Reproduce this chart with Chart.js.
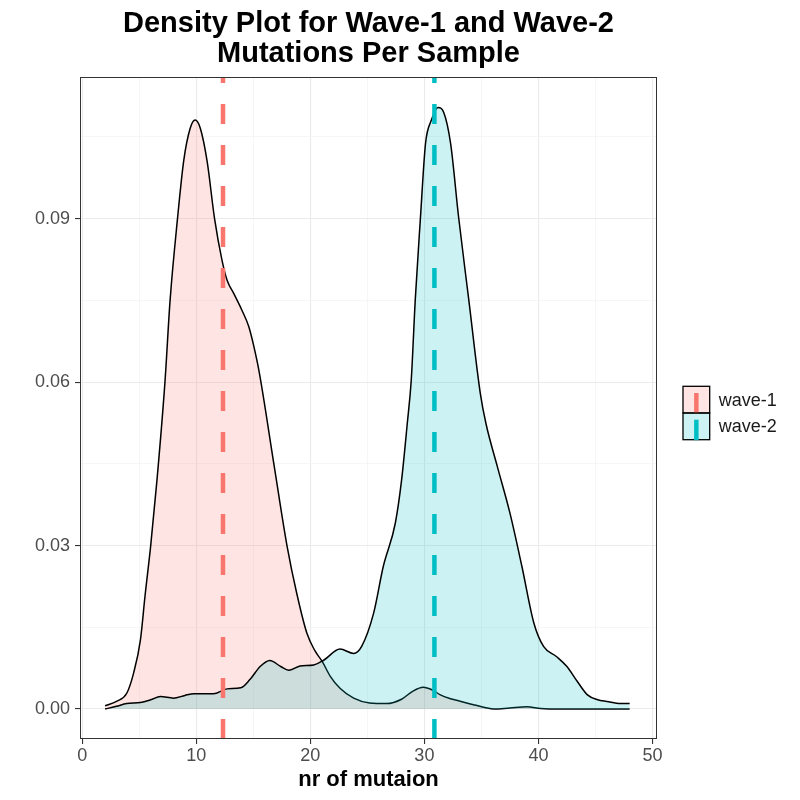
<!DOCTYPE html>
<html>
<head>
<meta charset="utf-8">
<script src="https://cdn.jsdelivr.net/npm/chart.js@4.4.1/dist/chart.umd.min.js"></script>
<style>
  html, body { margin: 0; padding: 0; background: #fff; }
  #wrap { width: 800px; height: 800px; }
</style>
</head>
<body>
<div id="wrap"><canvas id="densityChart" width="800" height="800"></canvas></div>
<script>
// density curves
const groups = ['wave-1', 'wave-2'];
const wave1X = [2, 3, 3.9, 4.5, 5.1, 5.5, 6, 6.55, 7.25, 7.7, 8.35, 8.9, 9.45, 9.9, 10.35, 10.95, 11.6, 12.25, 12.7, 13.3, 14, 14.6, 15.05, 15.5, 16.8, 17.95, 18.8, 19.7, 20.4, 21.05, 21.75, 22.6, 23.8, 25.2, 26.7, 28, 29, 29.9, 30.7, 31.4, 32.3, 33.2, 34.3, 35.3, 36.1, 37.5, 39, 40.2, 42, 45, 48];
const wave1Y = [0.0006, 0.0014, 0.0029, 0.0066, 0.0127, 0.0207, 0.030, 0.042, 0.060, 0.075, 0.090, 0.1007, 0.1065, 0.1081, 0.1066, 0.1005, 0.090, 0.0824, 0.0787, 0.0762, 0.0732, 0.0702, 0.0665, 0.0620, 0.0450, 0.0300, 0.0213, 0.0139, 0.0107, 0.0087, 0.0060, 0.0038, 0.0020, 0.0011, 0.0010, 0.0018, 0.0033, 0.0040, 0.0035, 0.0026, 0.0019, 0.0014, 0.0008, 0.0003, 0, 0.0002, 0.0004, 0.0001, 0, 0, 0];
const wave2X = [2, 3, 3.9, 5.1, 6, 6.85, 8, 9, 9.8, 11.5, 12.7, 13.9, 14.7, 15.6, 16.45, 17.4, 18.1, 19.1, 20.3, 21.2, 22.6, 23.8, 24.5, 25.55, 26.4, 27.45, 28, 28.5, 28.85, 29.2, 29.65, 30.1, 30.6, 31.2, 31.7, 32.3, 33, 33.9, 34.9, 35.4, 36.4, 37.5, 38.55, 39.6, 40.45, 41.6, 42.5, 43.4, 44.3, 45.2, 46, 47.2, 48];
const wave2Y = [0, 0.0005, 0.001, 0.0012, 0.0017, 0.0023, 0.002, 0.0025, 0.0028, 0.0028, 0.0037, 0.0039, 0.0054, 0.0078, 0.0089, 0.0078, 0.0071, 0.0079, 0.0081, 0.009, 0.011, 0.0102, 0.0115, 0.0176, 0.0262, 0.0341, 0.042, 0.0524, 0.0604, 0.0751, 0.090, 0.1038, 0.108, 0.1104, 0.1095, 0.1038, 0.0903, 0.075, 0.058, 0.0524, 0.0445, 0.036, 0.0262, 0.0158, 0.0115, 0.0096, 0.0078, 0.0051, 0.0026, 0.0017, 0.0014, 0.0010, 0.0010];
const means = [12.34, 30.88];

const xMajor = [0, 10, 20, 30, 40, 50];
const xMinor = [5, 15, 25, 35, 45];
const yMajor = [0, 0.03, 0.06, 0.09];
const yMinor = [0.015, 0.045, 0.075, 0.105];
const xRange = [-0.2, 50.4];
const yRange = [-0.0055, 0.116];

const fills = ['rgba(248,118,109,0.2)', 'rgba(0,191,196,0.2)'];
const lineColors = ['#F8766D', '#00BFC4'];
const FONT = "'Liberation Sans', Arial, sans-serif";

const toPoints = (xs, ys) => xs.map((x, i) => ({ x, y: ys[i] }));

const densitySet = (i, xs, ys) => ({
  label: groups[i],
  data: toPoints(xs, ys),
  borderColor: '#000',
  borderWidth: 1.5,
  backgroundColor: fills[i],
  fill: 'origin',
  pointRadius: 0,
  cubicInterpolationMode: 'monotone',
  order: 2 - i
});

const meanSet = i => ({
  label: groups[i] + ' mean',
  data: [{ x: means[i], y: yRange[0] }, { x: means[i], y: yRange[1] }],
  borderColor: lineColors[i],
  borderWidth: 4.5,
  borderDash: [20, 21],
  borderCapStyle: 'butt',
  pointRadius: 0,
  fill: false,
  order: 0
});

const gridStyle = major => ({
  color: c => major.includes(c.tick.value) ? '#EBEBEB' : '#F4F4F4',
  lineWidth: c => major.includes(c.tick.value) ? 1.1 : 0.8,
  tickColor: c => major.includes(c.tick.value) ? '#333333' : 'rgba(0,0,0,0)',
  tickLength: 5,
  drawTicks: true
});

const panelBorder = {
  id: 'panelBorder',
  afterDraw(chart) {
    const { ctx, chartArea: a } = chart;
    ctx.save();
    ctx.strokeStyle = '#333333';
    ctx.lineWidth = 1;
    ctx.strokeRect(a.left + 0.5, a.top + 0.5, a.right - a.left - 1, a.bottom - a.top - 1);
    ctx.restore();
  }
};

const keyLegend = {
  id: 'keyLegend',
  afterDraw(chart) {
    const { ctx, chartArea: a } = chart;
    const size = 26.7;
    const x = a.right + 26;
    const top = (a.top + a.bottom) / 2 + 5 - size;
    ctx.save();
    groups.forEach((g, i) => {
      const y = top + i * size;
      ctx.fillStyle = fills[i];
      ctx.fillRect(x, y, size, size);
      ctx.strokeStyle = '#000';
      ctx.lineWidth = 1.3;
      ctx.strokeRect(x, y, size, size);
      ctx.strokeStyle = lineColors[i];
      ctx.lineWidth = 4.5;
      ctx.beginPath();
      ctx.moveTo(x + size / 2, y + size + 0.5);
      ctx.lineTo(x + size / 2, y + size - 20);
      ctx.stroke();
      ctx.fillStyle = '#1A1A1A';
      ctx.font = `18px ${FONT}`;
      ctx.textBaseline = 'middle';
      ctx.fillText(g, x + size + 9, y + size / 2 + 1);
    });
    ctx.restore();
  }
};

new Chart(document.getElementById('densityChart'), {
  type: 'line',
  data: {
    datasets: [
      meanSet(0), meanSet(1),
      densitySet(0, wave1X, wave1Y),
      densitySet(1, wave2X, wave2Y)
    ]
  },
  options: {
    responsive: false,
    animation: false,
    layout: { padding: { right: 143, left: 0, top: 0, bottom: 0 } },
    plugins: {
      legend: { display: false },
      tooltip: { enabled: false },
      title: {
        display: true,
        fullSize: false,
        text: ['Density Plot for Wave-1 and Wave-2', 'Mutations Per Sample'],
        color: '#000',
        font: { family: FONT, size: 29, weight: 'bold', lineHeight: 30 / 29 },
        padding: { top: 9, bottom: 8 }
      }
    },
    scales: {
      x: {
        type: 'linear',
        min: xRange[0],
        max: xRange[1],
        afterBuildTicks: s => { s.ticks = xMajor.concat(xMinor).sort((a, b) => a - b).map(v => ({ value: v })); },
        afterFit: s => { s.height = 61; },
        grid: gridStyle(xMajor),
        border: { display: false },
        ticks: {
          autoSkip: false,
          maxRotation: 0,
          padding: 1,
          color: '#4D4D4D',
          font: { family: FONT, size: 18 },
          callback: v => xMajor.includes(v) ? String(v) : ''
        },
        title: {
          display: true,
          text: 'nr of mutaion',
          color: '#000',
          font: { family: FONT, size: 22, weight: 'bold' },
          padding: { top: 0, bottom: 7 }
        }
      },
      y: {
        type: 'linear',
        min: yRange[0],
        max: yRange[1],
        afterBuildTicks: s => { s.ticks = yMajor.concat(yMinor).sort((a, b) => a - b).map(v => ({ value: v })); },
        afterFit: s => { s.width = 80; },
        grid: gridStyle(yMajor),
        border: { display: false },
        ticks: {
          autoSkip: false,
          padding: 5,
          color: '#4D4D4D',
          font: { family: FONT, size: 18 },
          callback: v => yMajor.includes(v) ? v.toFixed(2) : ''
        }
      }
    }
  },
  plugins: [panelBorder, keyLegend]
});
</script>
</body>
</html>
